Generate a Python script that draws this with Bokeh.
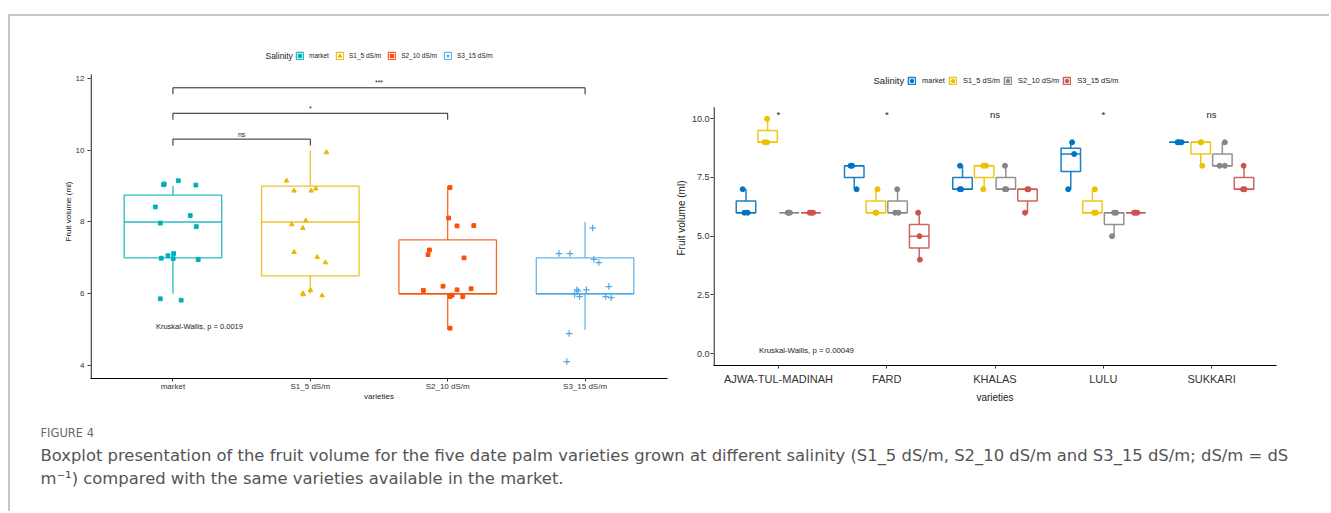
import numpy as np
from bokeh.plotting import figure
from bokeh.models import Range1d, Legend, LegendItem, Spacer, FixedTicker, NumeralTickFormatter
from bokeh.layouts import row, column
from bokeh.embed import file_html
from bokeh.resources import INLINE
from bokeh.core.properties import value

# ---------------- data ----------------
salinity = ["market", "S1_5 dS/m", "S2_10 dS/m", "S3_15 dS/m"]
varieties = ["AJWA-TUL-MADINAH", "FARD", "KHALAS", "LULU", "SUKKARI"]

# fruit volume (ml): three fruits per variety (AJWA, FARD, KHALAS, LULU, SUKKARI)
vol_market = [[6, 6, 7], [7, 8, 8], [7, 7, 8], [7, 8.5, 9], [9, 9, 9]]
vol_s1 = [[9, 9, 10], [6, 6, 7], [7, 8, 8], [6, 6, 7], [8, 9, 9]]
vol_s2 = [[6, 6, 6], [6, 6, 7], [7, 7, 8], [5, 6, 6], [8, 8, 9]]
vol_s3 = [[6, 6, 6], [4, 5, 6], [6, 7, 7], [6, 6, 6], [7, 7, 8]]
volumes = [vol_market, vol_s1, vol_s2, vol_s3]

# horizontal jitter of right-panel points
jit_r_market = [[-0.015, 0.015, -0.03], [0.022, -0.034, -0.02], [-0.025, -0.013, -0.023], [-0.024, 0.031, 0.012], [-0.015, 0.0, 0.024]]
jit_r_s1 = [[-0.03, -0.005, -0.005], [-0.006, 0.004, 0.015], [-0.008, -0.008, 0.017], [0.015, 0.031, 0.022], [0.015, 0.0, 0.005]]
jit_r_s2 = [[-0.015, -0.005, 0.005], [-0.022, 0.009, -0.003], [-0.008, 0.004, -0.008], [-0.019, 0.0, 0.018], [-0.025, 0.023, 0.023]]
jit_r_s3 = [[-0.012, 0.004, 0.02], [0.006, 0.003, -0.01], [-0.023, -0.002, 0.01], [-0.016, 0.0, 0.015], [0.005, -0.01, -0.004]]
jit_right = [jit_r_market, jit_r_s1, jit_r_s2, jit_r_s3]

# jitter of left-panel pooled points (sorted values)
jx_market = [-0.092, 0.06, -0.036, 0.005, -0.085, 0.002, 0.184, 0.126, -0.092, 0.17, -0.128, -0.063, -0.068, 0.039, 0.167]
jy_market = [-0.14, -0.18, 0.06, 0.12, -0.01, -0.02, -0.05, 0.18, -0.03, -0.13, -0.08, 0.06, 0.04, 0.15, 0.03]
jx_s1 = [-0.055, 0.001, 0.086, -0.05, -0.118, 0.05, 0.11, -0.033, -0.135, -0.055, -0.173, -0.118, 0.006, 0.04, 0.118]
jy_s1 = [0.01, 0.10, -0.05, -0.02, 0.16, 0.02, -0.13, 0.04, -0.07, -0.17, 0.15, -0.13, -0.13, -0.07, -0.06]
jx_s2 = [0.017, -0.034, -0.177, 0.068, 0.17, 0.017, 0.032, 0.11, -0.133, -0.143, 0.119, 0.007, 0.068, 0.19, 0.017]
jy_s2 = [0.04, 0.21, 0.09, 0.11, 0.14, -0.08, -0.04, -0.08, 0.22, 0.09, 0.0, 0.11, -0.11, -0.1, -0.04]
jx_s3 = [-0.133, -0.116, 0.173, -0.06, 0.009, -0.076, -0.04, 0.15, 0.19, -0.05, -0.19, -0.11, 0.064, 0.1, 0.055]
jy_s3 = [0.11, -0.11, 0.2, 0.11, 0.11, -0.02, -0.08, -0.08, -0.11, 0.08, 0.12, 0.12, -0.04, -0.13, -0.17]
jit_left_x = [jx_market, jx_s1, jx_s2, jx_s3]
jit_left_y = [jy_market, jy_s1, jy_s2, jy_s3]

# pairwise comparisons (left panel): (group a, group b, bracket height, label)
comparisons = [(1, 2, 10.31, "ns"), (1, 3, 11.03, "*"), (1, 4, 11.74, "***")]
kw_left = "Kruskal-Wallis, p = 0.0019"
kw_right = "Kruskal-Wallis, p = 0.00049"
sig_right = ["*", "*", "ns", "*", "ns"]
legend_title = "Salinity"

left_y_ticks = [4, 6, 8, 10, 12]
right_y_ticks = [0, 2.5, 5, 7.5, 10]

caption_title = "FIGURE 4"
caption_1 = ("Boxplot presentation of the fruit volume for the five date palm varieties grown at different "
             "salinity (S1_5 dS/m, S2_10 dS/m and S3_15 dS/m; dS/m = dS")
caption_2 = "m\u207b\u00b9) compared with the same varieties available in the market."

colors_left = ["#00AFBB", "#E7B800", "#FC4E07", "#4FA9E6"]
colors_right = ["#0073C2", "#EFC000", "#868686", "#CD534C"]
markers_left = ["square", "triangle", "square", "cross"]


def box_stats(vals):
    v = np.asarray(vals, dtype=float)
    q1, med, q3 = np.percentile(v, [25, 50, 75])
    iqr = q3 - q1
    lo = v[v >= q1 - 1.5 * iqr].min()
    hi = v[v <= q3 + 1.5 * iqr].max()
    return q1, med, q3, lo, hi


def style_axes(p, font, tick_size, axis_size):
    p.xgrid.visible = False
    p.ygrid.visible = False
    p.outline_line_color = None
    try:
        p.frame_align = False
    except Exception:
        pass
    for ax in (p.xaxis[0], p.yaxis[0]):
        ax.axis_line_color = "black"
        ax.axis_line_width = 1.1
        ax.major_tick_line_color = "#333333"
        ax.major_tick_out = 3
        ax.major_tick_in = 0
        ax.minor_tick_line_color = None
        ax.major_label_text_font = font
        ax.major_label_text_font_size = tick_size
        ax.major_label_text_color = "#333333"
        ax.axis_label_text_font = font
        ax.axis_label_text_font_size = axis_size
        ax.axis_label_text_font_style = "normal"
        ax.axis_label_text_color = "#222222"
    # the y axis line is drawn as a segment so that it stops at the data panel top
    p.yaxis.axis_line_color = None


# ---------------- left panel ----------------
FL = "Liberation Sans"
L_YMIN, L_YAXTOP, L_YTOP = 3.638, 12.11, 12.947
p1 = figure(width=662, height=400, x_range=Range1d(0.4, 4.6), y_range=Range1d(L_YMIN, L_YTOP),
            output_backend="svg", toolbar_location=None,
            min_border_left=80, min_border_right=5, min_border_top=28, min_border_bottom=38)
style_axes(p1, FL, "8px", "8px")
p1.xaxis.ticker = FixedTicker(ticks=[1, 2, 3, 4])
p1.xaxis.major_label_overrides = {i + 1: s for i, s in enumerate(salinity)}
p1.yaxis.ticker = FixedTicker(ticks=left_y_ticks)
p1.xaxis.axis_label = "varieties"
p1.yaxis.axis_label = "Fruit volume (ml)"
p1.xaxis.major_label_standoff = 0
p1.xaxis.axis_label_standoff = -2
p1.yaxis.major_label_standoff = 3
p1.yaxis.axis_label_standoff = 0
p1.segment(x0=[0.4045], x1=[0.4045], y0=[L_YMIN], y1=[L_YAXTOP], line_color="black", line_width=1.1)

items_left = []
for g in range(4):
    pooled = np.sort(np.concatenate([np.asarray(v, float) for v in volumes[g]]))
    q1, med, q3, lo, hi = box_stats(pooled)
    xc = g + 1
    c = colors_left[g]
    br = p1.vbar(x=[xc], width=0.71, bottom=[q1], top=[q3], fill_color="white", fill_alpha=0,
                 line_color=c, line_width=1.3, line_alpha=0.85)
    p1.segment(x0=[xc - 0.355], x1=[xc + 0.355], y0=[med], y1=[med], line_color=c, line_width=1.3, line_alpha=0.85)
    p1.segment(x0=[xc, xc], x1=[xc, xc], y0=[q3, q1], y1=[hi, lo], line_color=c, line_width=1.3, line_alpha=0.85)
    xs = xc + np.asarray(jit_left_x[g])
    ys = pooled + np.asarray(jit_left_y[g])
    if markers_left[g] == "cross":
        pr = p1.scatter(xs, ys, marker="cross", size=6.5, line_color=c, line_width=1.2)
    elif markers_left[g] == "triangle":
        pr = p1.scatter(xs, ys, marker="triangle", size=4.5, fill_color=c, line_color=c)
    else:
        pr = p1.scatter(xs, ys, marker="square", size=3.8, fill_color=c, line_color=c)
    items_left.append(LegendItem(label=salinity[g], renderers=[br, pr]))

for a, b, yb, lab in comparisons:
    p1.segment(x0=[a, a, b], x1=[b, a, b], y0=[yb, yb, yb], y1=[yb, yb - 0.18, yb - 0.18],
               line_color="#222222", line_width=1)
    p1.text(x=[(a + b) / 2], y=[yb + 0.04], text=[lab], text_font=value(FL), text_font_size="7px",
            text_align="center", text_baseline="bottom", text_color="#222222")

p1.text(x=[0.876], y=[5.09], text=[kw_left], text_font=value(FL), text_font_size="7.5px",
        text_align="left", text_baseline="middle", text_color="#222222")
p1.text(x=[1.873], y=[12.64], text=[legend_title], text_font=value(FL), text_font_size="8.5px",
        text_align="right", text_baseline="middle", text_color="#222222")

leg1 = Legend(items=items_left, orientation="horizontal", location=(205, 318),
              label_text_font=FL, label_text_font_size="6.5px", label_text_color="#222222",
              border_line_color=None, background_fill_alpha=0, padding=0, margin=0,
              spacing=6, label_standoff=5, glyph_width=9, glyph_height=9, label_height=9)
p1.add_layout(leg1)

# ---------------- right panel ----------------
FR = "Liberation Sans"
R_YMIN, R_YAXTOP, R_YTOP = -0.51, 10.49, 12.058
p2 = figure(width=657, height=400, x_range=Range1d(0.4, 5.6), y_range=Range1d(R_YMIN, R_YTOP),
            output_backend="svg", toolbar_location=None,
            min_border_left=40, min_border_right=53, min_border_top=54, min_border_bottom=51)
style_axes(p2, FR, "9px", "10px")
p2.xaxis.ticker = FixedTicker(ticks=[1, 2, 3, 4, 5])
p2.xaxis.major_label_overrides = {i + 1: s for i, s in enumerate(varieties)}
p2.xaxis.major_label_text_font_size = "11px"
p2.yaxis.ticker = FixedTicker(ticks=right_y_ticks)
p2.yaxis.formatter = NumeralTickFormatter(format="0.0")
p2.xaxis.axis_label = "varieties"
p2.yaxis.axis_label = "Fruit volume (ml)"
p2.xaxis.major_label_standoff = 4
p2.xaxis.axis_label_standoff = 4
p2.yaxis.major_label_standoff = 1
p2.yaxis.axis_label_standoff = 2
p2.segment(x0=[0.4055], x1=[0.4055], y0=[R_YMIN], y1=[R_YAXTOP], line_color="black", line_width=1.1)

offsets = [-0.3, -0.1, 0.1, 0.3]
bw = 0.18
items_right = []
for g in range(4):
    c = colors_right[g]
    xc_list, q1s, meds, q3s, los, his = [], [], [], [], [], []
    px, py = [], []
    for v in range(5):
        vals = np.asarray(volumes[g][v], float)
        q1, med, q3, lo, hi = box_stats(vals)
        xc = v + 1 + offsets[g]
        xc_list.append(xc); q1s.append(q1); meds.append(med); q3s.append(q3); los.append(lo); his.append(hi)
        px.extend(list(xc + np.asarray(jit_right[g][v])))
        py.extend(list(vals))
    xa = np.asarray(xc_list)
    br = p2.vbar(x=xa, width=bw, bottom=q1s, top=q3s, fill_color="white", fill_alpha=0,
                 line_color=c, line_width=1.5, line_alpha=0.9)
    p2.segment(x0=xa - bw / 2, x1=xa + bw / 2, y0=meds, y1=meds, line_color=c, line_width=1.5, line_alpha=0.9)
    p2.segment(x0=np.concatenate([xa, xa]), x1=np.concatenate([xa, xa]),
               y0=q3s + q1s, y1=his + los, line_color=c, line_width=1.5, line_alpha=0.9)
    pr = p2.scatter(px, py, marker="circle", size=5, fill_color=c, line_color=c)
    items_right.append(LegendItem(label=salinity[g], renderers=[br, pr]))

p2.text(x=[1, 2, 3, 4, 5], y=[9.95] * 5, text=sig_right, text_font=value(FR), text_font_size="9.5px",
        text_align="center", text_baseline="bottom", text_color="#222222")
p2.text(x=[0.82], y=[0.13], text=[kw_right], text_font=value(FR), text_font_size="7.8px",
        text_align="left", text_baseline="middle", text_color="#222222")
p2.text(x=[2.161], y=[11.63], text=[legend_title], text_font=value(FR), text_font_size="9.5px",
        text_align="right", text_baseline="middle", text_color="#222222")

leg2 = Legend(items=items_right, orientation="horizontal", location=(194, 280),
              label_text_font=FR, label_text_font_size="7.5px", label_text_color="#222222",
              border_line_color=None, background_fill_alpha=0, padding=0, margin=0,
              spacing=3, label_standoff=6, glyph_width=9, glyph_height=9, label_height=10)
p2.add_layout(leg2)

# ---------------- caption ----------------
cap = figure(width=1319, height=95, x_range=Range1d(0, 1319), y_range=Range1d(95, 0),
             output_backend="svg", toolbar_location=None, min_border=0)
cap.axis.visible = False
cap.xgrid.visible = False
cap.ygrid.visible = False
cap.outline_line_color = None
cap.text(x=[30], y=[16], text=[caption_title], text_font=value("DejaVu Sans"), text_font_size="11.5px",
         text_baseline="middle", text_color="#6a6a6a")
cap.text(x=[30, 30], y=[39, 62], text=[caption_1, caption_2], text_font=value("DejaVu Sans"),
         text_font_size="16.4px", text_baseline="middle", text_color="#555555")

inner = column(row(p1, p2), cap,
               styles={"border-top": "2px solid #c6c6c6", "border-left": "2px solid #c6c6c6"})
layout = column(Spacer(width=10, height=14), row(Spacer(width=8, height=10), inner))

open("out.html", "w").write(file_html(layout, INLINE))
